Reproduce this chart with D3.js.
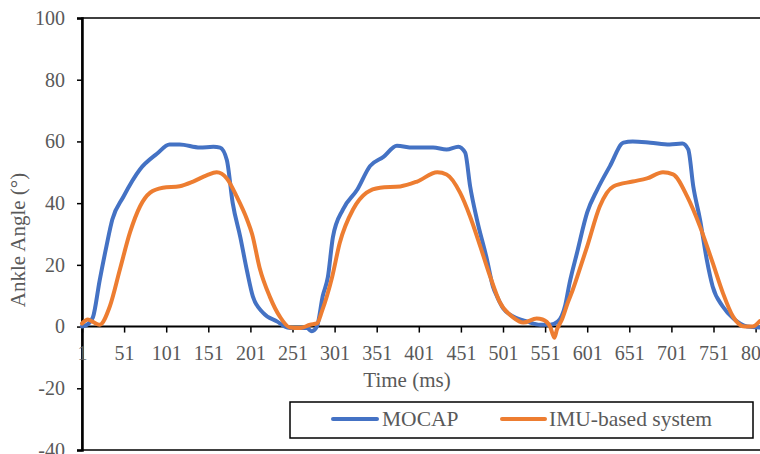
<!DOCTYPE html>
<html>
<head>
<meta charset="utf-8">
<script src="https://cdn.jsdelivr.net/npm/d3@7/dist/d3.min.js"></script>
<style>
  html, body { margin: 0; padding: 0; background: #fff; }
  svg { display: block; }
  text { font-family: "Liberation Serif", "Times New Roman", serif; fill: #595959; }
</style>
</head>
<body>
<svg id="chart" width="760" height="454"></svg>
<script>
// ---- data ----
const mocapTime  = [1, 8, 14, 22, 30, 37, 50, 70, 90, 105, 117, 141, 157, 165, 173, 180, 189, 197, 204, 216, 233, 245, 252, 268, 274, 280, 287, 293, 299, 311, 328, 343, 359, 375, 394, 418, 434, 448, 456, 462, 470, 482, 489, 494, 501, 513, 530, 545, 557, 566, 575, 580, 589, 601, 613, 628, 644, 655, 676, 699, 714, 721, 727, 735, 743, 750, 762, 775, 791, 806];
const mocapAngle = [0, 0.8, 3, 15, 26, 34.7, 42, 51, 56, 59, 59, 58, 58.3, 58, 54, 40, 29, 18, 9.7, 4.5, 1.6, -0.3, -0.5, -0.5, -1.5, 0, 10, 16, 29, 38, 44.4, 52, 55, 58.6, 58, 58, 57.4, 58.3, 56.4, 45.4, 34.7, 21.7, 13, 9.7, 6, 3.3, 1.6, 0.6, 0.6, 1.6, 7, 14, 24, 37, 44.4, 52, 59.6, 60, 59.6, 59, 59.3, 57.4, 45.4, 34.7, 21.7, 13, 6.5, 2.5, 0, -0.3];

const imuTime  = [1, 8, 14, 22, 34, 46, 58, 70, 82, 97, 117, 133, 149, 161, 173, 185, 197, 203, 212, 224, 236, 248, 260, 272, 280, 286, 292, 298, 307, 323, 339, 355, 379, 399, 423, 434, 450, 462, 474, 486, 497, 513, 525, 541, 548, 557, 562, 565, 571, 578, 584, 589, 601, 616, 632, 655, 672, 691, 703, 720, 735, 750, 762, 774, 788, 797, 806];
const imuAngle = [1, 2.3, 1.5, 0.6, 6.5, 18.5, 30.5, 39, 43.4, 45, 45.5, 47, 49, 50, 48, 42, 34.7, 30, 19, 9.7, 3.2, -0.3, -0.5, 0.6, 1, 5, 10, 16, 27, 38, 43.4, 45, 45.4, 47, 50, 49.3, 43.4, 35.6, 26, 16, 8, 3, 1.3, 2.6, 2.3, 0, -3.6, -1, 2.3, 7.8, 12, 16, 26, 39, 45.4, 47, 48, 50, 49.3, 42, 32.4, 20.7, 11, 3.3, 0, 0, 1.8];

const xTicks = [1, 51, 101, 151, 201, 251, 301, 351, 401, 451, 501, 551, 601, 651, 701, 751, 801];
const yTicks = [-40, -20, 0, 20, 40, 60, 80, 100];
const seriesNames = ["MOCAP", "IMU-based system"];
const seriesColors = ["#4472C4", "#ED7D31"];

// ---- layout ----
const svg = d3.select("#chart");
const plotL = 82, plotT = 18, plotB = 450, plotR = 800;

const x = d3.scaleLinear().domain([1, 801]).range([plotL, 755.6]);
const y = d3.scaleLinear().domain([-40, 100]).range([plotB, plotT]);

// plot area border (top / bottom / right)
svg.append("rect")
  .attr("x", plotL).attr("y", plotT)
  .attr("width", plotR - plotL).attr("height", plotB - plotT)
  .attr("fill", "none").attr("stroke", "#000").attr("stroke-width", 1.5);

// y axis
const yAxis = svg.append("g")
  .attr("transform", `translate(${plotL},0)`)
  .call(d3.axisLeft(y).tickValues(yTicks).tickSize(5).tickPadding(12).tickFormat(d => String(d)));
yAxis.select(".domain").attr("stroke", "#000").attr("stroke-width", 2.5);
yAxis.selectAll(".tick line").attr("stroke", "#000").attr("stroke-width", 1.5);
yAxis.selectAll(".tick text").attr("font-size", 20).attr("fill", "#595959")
  .attr("font-family", "Liberation Serif, Times New Roman, serif");

// x axis at y = 0
const xAxis = svg.append("g")
  .attr("transform", `translate(0,${y(0)})`)
  .call(d3.axisBottom(x).tickValues(xTicks).tickSize(6).tickPadding(13).tickFormat(d => String(d)));
xAxis.select(".domain").attr("stroke", "#000").attr("stroke-width", 2).attr("d", `M${plotL},0H${plotR}`);
xAxis.selectAll(".tick line").attr("stroke", "#000").attr("stroke-width", 1.5);
xAxis.selectAll(".tick text").attr("font-size", 20).attr("fill", "#595959")
  .attr("font-family", "Liberation Serif, Times New Roman, serif");

// axis titles
svg.append("text")
  .attr("x", 407).attr("y", 387)
  .attr("text-anchor", "middle").attr("font-size", 21)
  .text("Time (ms)");
svg.append("text")
  .attr("transform", "translate(25,240) rotate(-90)")
  .attr("text-anchor", "middle").attr("font-size", 21)
  .text("Ankle Angle (°)");

// lines
const line = d3.line()
  .x(d => x(d[0])).y(d => y(d[1]))
  .curve(d3.curveMonotoneX);

const series = [
  d3.zip(mocapTime, mocapAngle),
  d3.zip(imuTime, imuAngle)
];

series.forEach((s, i) => {
  svg.append("path")
    .datum(s)
    .attr("d", line)
    .attr("fill", "none")
    .attr("stroke", seriesColors[i])
    .attr("stroke-width", 4)
    .attr("stroke-linejoin", "round")
    .attr("stroke-linecap", "round");
});

// legend
const lg = svg.append("g");
lg.append("rect")
  .attr("x", 290).attr("y", 402).attr("width", 463).attr("height", 36)
  .attr("fill", "#fff").attr("stroke", "#000").attr("stroke-width", 1.5);
const legendItems = [
  { x1: 333, x2: 377, tx: 382 },
  { x1: 502, x2: 545, tx: 549 }
];
legendItems.forEach((it, i) => {
  lg.append("line")
    .attr("x1", it.x1).attr("x2", it.x2).attr("y1", 419).attr("y2", 419)
    .attr("stroke", seriesColors[i]).attr("stroke-width", 4).attr("stroke-linecap", "round");
  lg.append("text")
    .attr("x", it.tx).attr("y", 426).attr("font-size", 21.5)
    .text(seriesNames[i]);
});
</script>
</body>
</html>
